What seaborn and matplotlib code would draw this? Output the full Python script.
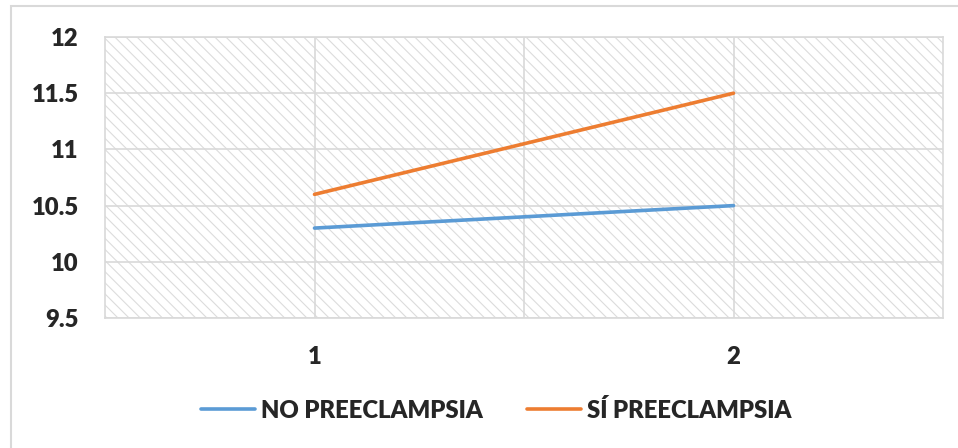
import matplotlib
matplotlib.use("Agg")
import matplotlib.pyplot as plt
from matplotlib.patches import Rectangle
import pandas as pd
import seaborn as sns

# Data
categories = [1, 2]
no_preeclampsia = [10.3, 10.5]
si_preeclampsia = [10.6, 11.5]
series_names = ["NO PREECLAMPSIA", "SÍ PREECLAMPSIA"]
y_ticks = [9.5, 10, 10.5, 11, 11.5, 12]
y_tick_labels = ["9.5", "10", "10.5", "11", "11.5", "12"]

df = pd.DataFrame({
    "x": categories * 2,
    "value": no_preeclampsia + si_preeclampsia,
    "serie": [series_names[0]] * 2 + [series_names[1]] * 2,
})

sns.set_style("white")
plt.rcParams["font.family"] = ["Lato", "DejaVu Sans"]
plt.rcParams["hatch.linewidth"] = 0.8
plt.rcParams["hatch.color"] = "#dcdcdc"

FS = 17.2
WEIGHT = 800

fig = plt.figure(figsize=(9.58, 4.48), dpi=100)
ax = fig.add_axes([105 / 958, 1 - 318 / 448, 838 / 958, 281 / 448])

# outer chart frame
fig.patches.append(Rectangle((11 / 958, -0.2), 1.2, 1 - 6 / 448 + 0.2,
                             transform=fig.transFigure, fill=False,
                             edgecolor="#d9d9d9", linewidth=1.5))

# hatched plot-area background
ax.add_patch(Rectangle((0, 0), 1, 1, transform=ax.transAxes,
                       facecolor="white", edgecolor="#dcdcdc", hatch="\\\\\\",
                       linewidth=0, zorder=0))

palette = {series_names[0]: "#5B9BD5", series_names[1]: "#ED7D31"}
sns.lineplot(data=df, x="x", y="value", hue="serie", palette=palette,
             linewidth=2.6, ax=ax, legend=True, zorder=3)

ax.set_xlim(0.5, 2.5)
ax.set_ylim(9.5, 12)
ax.set_xticks(categories)
ax.set_xticks([1.5], minor=True)
ax.set_xticklabels([str(c) for c in categories], fontweight=WEIGHT, fontsize=FS)
ax.set_yticks(y_ticks)
ax.set_yticklabels(y_tick_labels, fontweight=WEIGHT, fontsize=FS)
ax.set_xlabel("")
ax.set_ylabel("")

ax.grid(True, which="both", color="#d9d9d9", linewidth=1.2, zorder=1)
ax.set_axisbelow(True)
ax.tick_params(axis="both", which="both", length=0)
ax.tick_params(axis="y", pad=19)
ax.tick_params(axis="x", pad=20)
for s in ax.spines.values():
    s.set_color("#d9d9d9")
    s.set_linewidth(1.2)

handles, labels = ax.get_legend_handles_labels()
ax.legend(handles, labels, loc="center", bbox_to_anchor=(496 / 958, 1 - 410 / 448),
          bbox_transform=fig.transFigure, ncol=2, frameon=False,
          prop={"family": ["Lato", "DejaVu Sans"], "weight": WEIGHT, "size": FS},
          handlelength=2.25, handletextpad=0.25, columnspacing=1.85)

fig.savefig("out.png", dpi=100)
